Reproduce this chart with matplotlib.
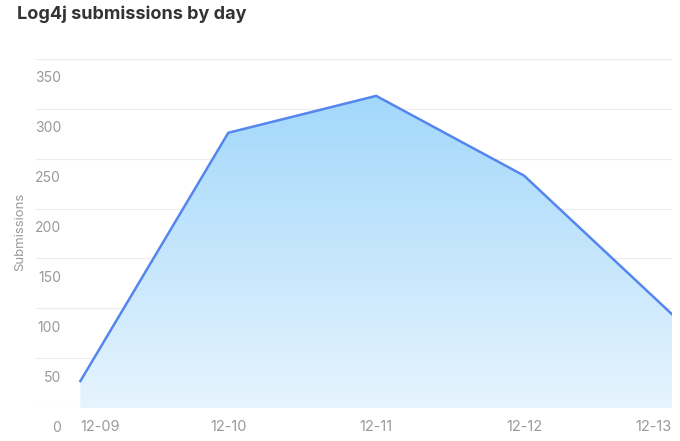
import matplotlib.pyplot as plt
import numpy as np
from matplotlib.colors import LinearSegmentedColormap
from matplotlib.patches import Polygon
import matplotlib.transforms as mtransforms

plt.rcParams['font.family'] = ['Inter', 'DejaVu Sans']

days = ['12-09', '12-10', '12-11', '12-12', '12-13']
submissions = [27, 276, 313, 233, 94]
y_ticks = [0, 50, 100, 150, 200, 250, 300, 350]

fig = plt.figure(figsize=(6.8, 4.41), dpi=100)
ax = fig.add_axes([36/680, 1 - 408/441, (672 - 36)/680, (408 - 59)/441])

x = np.arange(len(days))
ax.set_xlim(-0.3, len(days) - 1)
ax.set_ylim(0, 350)

# gradient fill under the line
cmap = LinearSegmentedColormap.from_list('fill', ['#e6f4fe', '#a3d8fb'])
grad = np.linspace(0, 1, 256).reshape(-1, 1)
img = ax.imshow(grad, cmap=cmap, aspect='auto', origin='lower',
                extent=[x[0], x[-1], 0, max(submissions)], zorder=1)
poly = Polygon(list(zip(x, submissions)) + [(x[-1], 0), (x[0], 0)],
               closed=True, transform=ax.transData, facecolor='none', edgecolor='none')
ax.add_patch(poly)
img.set_clip_path(poly)

ax.plot(x, submissions, color='#5486ee', lw=1.8, zorder=3, solid_joinstyle='miter')

for t in y_ticks:
    ax.axhline(t, color='#ececec', lw=0.9, zorder=0)

for s in ax.spines.values():
    s.set_visible(False)

ax.set_yticks(y_ticks)
ax.set_yticklabels([str(t) for t in y_ticks])
ax.tick_params(axis='y', length=0, pad=-18, labelsize=10, labelcolor='#999999')
offset = mtransforms.ScaledTranslation(0, -18/100, fig.dpi_scale_trans)
for lab in ax.get_yticklabels():
    lab.set_transform(lab.get_transform() + offset)

ax.set_xticks(x)
ax.set_xticklabels(days)
ax.tick_params(axis='x', length=0, pad=8.5, labelsize=10.5, labelcolor='#999999')
xl = ax.get_xticklabels()
xl[0].set_ha('left')
xl[-1].set_ha('right')

fig.text(20/680, 1 - 232/441, 'Submissions', rotation=90, ha='center', va='center',
         fontsize=9.5, color='#999999')
fig.text(17/680, 1 - 14/441, 'Log4j submissions by day', ha='left', va='center',
         fontsize=13, fontweight='bold', color='#333333')

fig.savefig('out.png', dpi=100)
